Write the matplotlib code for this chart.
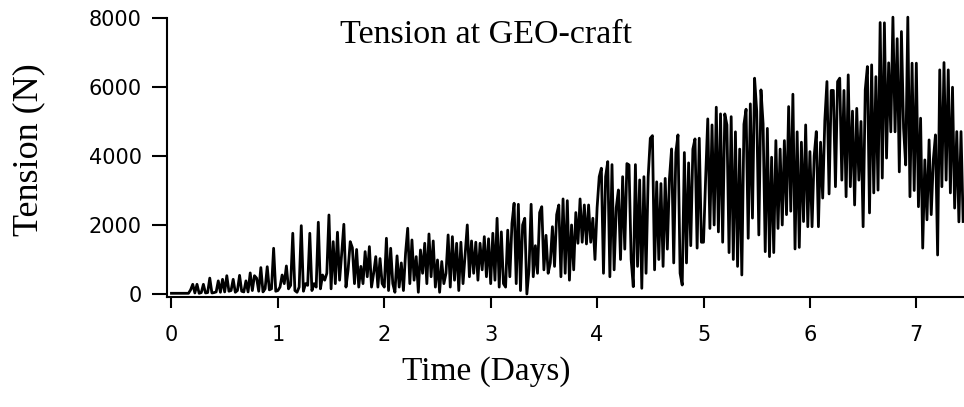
import matplotlib
matplotlib.use('Agg')
import numpy as np
import matplotlib.pyplot as plt

# sampling step of the record (days)
dt = 0.02

# tension (N), one list per day
day0 = [20, 20, 20, 20, 20, 20, 20, 20, 20, 120,
        280, 30, 280, 20, 40, 280, 30, 40, 460, 30,
        40, 60, 380, 50, 425, 60, 530, 80, 100, 425,
        50, 100, 540, 80, 60, 380, 60, 610, 100, 530,
        460, 80, 765, 60, 150, 790, 120, 150, 1325, 80]
day1 = [100, 200, 550, 300, 812, 150, 250, 1760, 100, 50,
        200, 1980, 80, 300, 250, 1760, 100, 300, 200, 2080,
        150, 550, 400, 600, 2290, 150, 1517, 300, 1790, 400,
        1180, 2020, 200, 700, 1517, 1343, 300, 1290, 200, 800,
        300, 1228, 500, 1373, 200, 600, 1083, 200, 1027, 300]
day2 = [200, 1615, 100, 1325, 300, 50, 1105, 200, 900, 100,
        1180, 1905, 300, 1566, 400, 1083, 50, 1276, 600, 1470,
        300, 1740, 500, 1537, 200, 986, 50, 940, 300, 600,
        1711, 200, 1662, 400, 1470, 100, 1500, 300, 1150, 2001,
        500, 1537, 600, 1500, 400, 1470, 700, 1662, 500, 1600]
day3 = [300, 1760, 400, 2195, 200, 1800, 300, 200, 1850, 500,
        2050, 2630, 300, 2600, 100, 2000, 2195, 0, 700, 2600,
        500, 1400, 600, 2360, 2530, 700, 1700, 600, 900, 1950,
        800, 2300, 2580, 500, 2755, 600, 2705, 400, 2000, 700,
        2360, 1470, 2755, 1500, 2580, 1450, 2580, 1500, 2195, 1000]
day4 = [2500, 3400, 3645, 600, 3400, 3837, 500, 3750, 700, 2500,
        3015, 1000, 3400, 1300, 3780, 3740, 1000, 212, 3750, 800,
        3306, 165, 3400, 600, 3400, 4515, 4590, 700, 3250, 1000,
        3200, 800, 3350, 1300, 3350, 4205, 900, 4100, 4611, 600,
        260, 4100, 900, 3800, 1400, 4200, 4495, 1330, 4515, 1500]
day5 = [1500, 3355, 5075, 1900, 4900, 2000, 5414, 1800, 5220, 1500,
        5220, 4900, 1200, 5140, 1000, 4700, 800, 4200, 551, 4920,
        5355, 1615, 5510, 2200, 6255, 5300, 1711, 5916, 4930, 1227,
        4800, 1083, 3964, 1200, 4446, 1900, 4200, 2000, 4446, 2300,
        5432, 2400, 5790, 1305, 4700, 1350, 4400, 2100, 4900, 1950]
day6 = [4127, 1950, 4000, 4707, 1950, 4400, 2780, 5026, 6157, 2900,
        5900, 5900, 3110, 6157, 6255, 3300, 5900, 2820, 6351, 3110,
        5300, 2580, 5380, 3300, 5000, 1950, 5916, 6592, 2350, 6641,
        2930, 6300, 3010, 7868, 3360, 7860, 3940, 6700, 4700, 8024,
        4700, 7400, 3540, 7607, 4810, 3740, 8024, 2820, 6690, 3000]
day7 = [6690, 2530, 5095, 1330, 3886, 2150, 4466, 2300, 3900, 4611,
        1130, 6496, 3110, 6708, 3300, 6496, 2930, 5993, 2490, 4707,
        2090, 4707, 2100]

tension = np.array(day0 + day1 + day2 + day3 + day4 + day5 + day6 + day7)
time = np.arange(len(tension)) * dt

xticks = [0, 1, 2, 3, 4, 5, 6, 7]
yticks = [0, 2000, 4000, 6000, 8000]

serif = 'Liberation Serif'
sans = 'DejaVu Sans'

fig = plt.figure(figsize=(9.64, 4.07), dpi=100)
ax = fig.add_axes([0.1729, 0.2703, 0.8271, 0.6855])

ax.plot(time, tension, color='black', linewidth=2.0, clip_on=False)

ax.set_xlim(-0.045, 7.448)
ax.set_ylim(-87, 8000)
ax.set_xticks(xticks)
ax.set_yticks(yticks)
ax.set_xticklabels([str(v) for v in xticks], fontfamily=sans, fontsize=15)
ax.set_yticklabels([str(v) for v in yticks], fontfamily=sans, fontsize=15)

# igor style: only left and bottom axes, ticks outward
for side in ['top', 'right']:
    ax.spines[side].set_visible(False)
for side in ['left', 'bottom']:
    ax.spines[side].set_linewidth(1.5)
ax.tick_params(axis='y', direction='out', length=11, width=1.5, pad=7)
ax.tick_params(axis='x', direction='out', length=8, width=1.5, pad=12)

fig.text(486 / 964, 1 - 35 / 407, 'Tension at GEO-craft', fontfamily=serif,
         fontsize=24.5, ha='center', va='center')
fig.text(486 / 964, 1 - 372 / 407, 'Time (Days)', fontfamily=serif,
         fontsize=24, ha='center', va='center')
fig.text(29 / 964, 1 - 150 / 407, 'Tension (N)', fontfamily=serif,
         fontsize=26, ha='center', va='center', rotation=90)

fig.savefig('out.png', dpi=100)
